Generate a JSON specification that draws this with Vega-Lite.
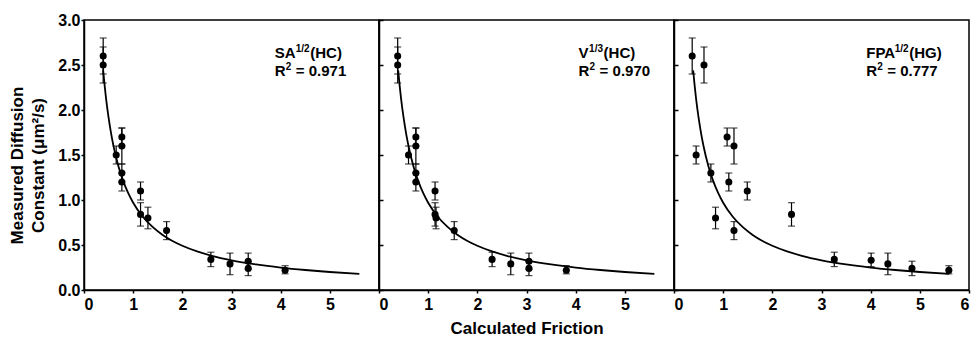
{
  "$schema": "https://vega.github.io/schema/vega-lite/v6.json",
  "padding": {"left": 8, "top": 11, "right": 4, "bottom": 0},
  "spacing": 0,
  "bounds": "flush",
  "datasets": {
    "pts": [
      {"panel": "A", "x": 0.39, "y": 2.6, "lo": 2.4, "hi": 2.8},
      {"panel": "A", "x": 0.39, "y": 2.5, "lo": 2.3, "hi": 2.7},
      {"panel": "A", "x": 0.655, "y": 1.5, "lo": 1.4, "hi": 1.6},
      {"panel": "A", "x": 0.77, "y": 1.7, "lo": 1.6, "hi": 1.8},
      {"panel": "A", "x": 0.77, "y": 1.6, "lo": 1.4, "hi": 1.8},
      {"panel": "A", "x": 0.77, "y": 1.3, "lo": 1.2, "hi": 1.4},
      {"panel": "A", "x": 0.77, "y": 1.2, "lo": 1.1, "hi": 1.3},
      {"panel": "A", "x": 1.15, "y": 1.1, "lo": 1.0, "hi": 1.2},
      {"panel": "A", "x": 1.15, "y": 0.84, "lo": 0.71, "hi": 0.97},
      {"panel": "A", "x": 1.30, "y": 0.80, "lo": 0.68, "hi": 0.92},
      {"panel": "A", "x": 1.68, "y": 0.66, "lo": 0.56, "hi": 0.76},
      {"panel": "A", "x": 2.58, "y": 0.34, "lo": 0.26, "hi": 0.42},
      {"panel": "A", "x": 2.97, "y": 0.29, "lo": 0.17, "hi": 0.41},
      {"panel": "A", "x": 3.34, "y": 0.32, "lo": 0.23, "hi": 0.41},
      {"panel": "A", "x": 3.34, "y": 0.24, "lo": 0.16, "hi": 0.32},
      {"panel": "A", "x": 4.09, "y": 0.22, "lo": 0.18, "hi": 0.27},
      {"panel": "B", "x": 0.38, "y": 2.6, "lo": 2.4, "hi": 2.8},
      {"panel": "B", "x": 0.38, "y": 2.5, "lo": 2.3, "hi": 2.7},
      {"panel": "B", "x": 0.60, "y": 1.5, "lo": 1.4, "hi": 1.6},
      {"panel": "B", "x": 0.75, "y": 1.7, "lo": 1.6, "hi": 1.8},
      {"panel": "B", "x": 0.75, "y": 1.6, "lo": 1.4, "hi": 1.8},
      {"panel": "B", "x": 0.75, "y": 1.3, "lo": 1.2, "hi": 1.4},
      {"panel": "B", "x": 0.75, "y": 1.2, "lo": 1.1, "hi": 1.3},
      {"panel": "B", "x": 1.14, "y": 1.1, "lo": 1.0, "hi": 1.2},
      {"panel": "B", "x": 1.14, "y": 0.84, "lo": 0.71, "hi": 0.97},
      {"panel": "B", "x": 1.16, "y": 0.80, "lo": 0.68, "hi": 0.92},
      {"panel": "B", "x": 1.53, "y": 0.66, "lo": 0.56, "hi": 0.76},
      {"panel": "B", "x": 2.30, "y": 0.34, "lo": 0.26, "hi": 0.42},
      {"panel": "B", "x": 2.68, "y": 0.29, "lo": 0.17, "hi": 0.41},
      {"panel": "B", "x": 3.05, "y": 0.32, "lo": 0.23, "hi": 0.41},
      {"panel": "B", "x": 3.05, "y": 0.24, "lo": 0.16, "hi": 0.32},
      {"panel": "B", "x": 3.81, "y": 0.22, "lo": 0.18, "hi": 0.27},
      {"panel": "C", "x": 0.37, "y": 2.6, "lo": 2.4, "hi": 2.8},
      {"panel": "C", "x": 0.61, "y": 2.5, "lo": 2.3, "hi": 2.7},
      {"panel": "C", "x": 0.45, "y": 1.5, "lo": 1.4, "hi": 1.6},
      {"panel": "C", "x": 0.75, "y": 1.3, "lo": 1.2, "hi": 1.4},
      {"panel": "C", "x": 0.845, "y": 0.80, "lo": 0.68, "hi": 0.92},
      {"panel": "C", "x": 1.08, "y": 1.7, "lo": 1.6, "hi": 1.8},
      {"panel": "C", "x": 1.22, "y": 1.6, "lo": 1.4, "hi": 1.8},
      {"panel": "C", "x": 1.115, "y": 1.2, "lo": 1.1, "hi": 1.3},
      {"panel": "C", "x": 1.22, "y": 0.66, "lo": 0.56, "hi": 0.76},
      {"panel": "C", "x": 1.49, "y": 1.1, "lo": 1.0, "hi": 1.2},
      {"panel": "C", "x": 2.39, "y": 0.84, "lo": 0.71, "hi": 0.97},
      {"panel": "C", "x": 3.26, "y": 0.34, "lo": 0.26, "hi": 0.42},
      {"panel": "C", "x": 4.01, "y": 0.33, "lo": 0.26, "hi": 0.41},
      {"panel": "C", "x": 4.35, "y": 0.29, "lo": 0.17, "hi": 0.41},
      {"panel": "C", "x": 4.84, "y": 0.24, "lo": 0.16, "hi": 0.32},
      {"panel": "C", "x": 5.59, "y": 0.22, "lo": 0.18, "hi": 0.27}
    ],
    "curve": [
      {"x": 0.39, "y": 2.44}, {"x": 0.42, "y": 2.27}, {"x": 0.45, "y": 2.12},
      {"x": 0.5, "y": 1.914}, {"x": 0.55, "y": 1.743}, {"x": 0.6, "y": 1.6},
      {"x": 0.7, "y": 1.376}, {"x": 0.8, "y": 1.207}, {"x": 0.9, "y": 1.076},
      {"x": 1.0, "y": 0.97}, {"x": 1.2, "y": 0.811}, {"x": 1.4, "y": 0.698},
      {"x": 1.6, "y": 0.612}, {"x": 1.8, "y": 0.545}, {"x": 2.0, "y": 0.492},
      {"x": 2.3, "y": 0.429}, {"x": 2.6, "y": 0.38}, {"x": 3.0, "y": 0.33},
      {"x": 3.5, "y": 0.284}, {"x": 4.0, "y": 0.249}, {"x": 4.5, "y": 0.222},
      {"x": 5.0, "y": 0.2}, {"x": 5.6, "y": 0.179}
    ],
    "notes": [
      {"panel": "A", "line": 1, "x": 3.88, "y": 2.574, "a": "SA", "b": "1/2", "c": "(HC)"},
      {"panel": "A", "line": 2, "x": 3.88, "y": 2.378, "a": "R", "b": "2", "c": "= 0.971"},
      {"panel": "B", "line": 1, "x": 4.06, "y": 2.574, "a": "V", "b": "1/3", "c": "(HC)"},
      {"panel": "B", "line": 2, "x": 4.06, "y": 2.378, "a": "R", "b": "2", "c": "= 0.970"},
      {"panel": "C", "line": 1, "x": 3.91, "y": 2.574, "a": "FPA", "b": "1/2", "c": "(HG)"},
      {"panel": "C", "line": 2, "x": 3.91, "y": 2.378, "a": "R", "b": "2", "c": "= 0.777"}
    ]
  },
  "config": {
    "font": "Liberation Sans",
    "view": {"stroke": "black", "strokeWidth": 1.5},
    "axis": {
      "labelFont": "Liberation Sans", "labelFontWeight": "bold", "labelFontSize": 16, "labelColor": "black",
      "titleFont": "Liberation Sans", "titleFontWeight": "bold", "titleFontSize": 17, "titleColor": "black",
      "domainColor": "black", "domainWidth": 1.5, "tickColor": "black", "tickWidth": 1.5, "tickSize": 3,
      "grid": false, "labelPadding": 1
    },
    "text": {"font": "Liberation Sans", "fontWeight": "bold", "color": "black", "align": "left", "baseline": "alphabetic"}
  },
  "hconcat": [
    {
      "width": 295, "height": 270,
      "encoding": {
        "x": {"field": "x", "type": "quantitative", "scale": {"domain": [0, 6], "nice": false}, "axis": {"values": [0, 1, 2, 3, 4, 5], "title": null, "labelPadding": 3}},
        "y": {"field": "y", "type": "quantitative", "scale": {"domain": [0, 3], "nice": false}, "axis": {"values": [0, 0.5, 1, 1.5, 2, 2.5, 3], "format": ".1f", "title": ["Measured Diffusion", "Constant (μm²/s)"], "titleLineHeight": 21, "titlePadding": 10, "titleY": 145}}
      },
      "layer": [
        {
          "data": {"name": "curve"},
          "mark": {"type": "line", "color": "black", "strokeWidth": 1.8, "interpolate": "monotone"}
        },
        {
          "data": {"name": "pts"},
          "transform": [{"filter": "datum.panel == 'A'"}],
          "mark": {"type": "errorbar", "color": "black", "thickness": 1.2, "ticks": {"size": 7, "color": "black", "thickness": 1.2}},
          "encoding": {
            "y": {"field": "lo", "type": "quantitative"},
            "y2": {"field": "hi"}
          }
        },
        {
          "data": {"name": "pts"},
          "transform": [{"filter": "datum.panel == 'A'"}],
          "mark": {"type": "circle", "color": "black", "size": 50, "opacity": 1}
        },
        {
          "data": {"name": "notes"},
          "transform": [{"filter": "datum.panel == 'A'"}],
          "layer": [
            {"mark": {"type": "text", "fontSize": 15}, "encoding": {"text": {"field": "a"}}},
            {"transform": [{"filter": "datum.line == 1"}], "mark": {"type": "text", "fontSize": 10, "dx": 21, "dy": -6}, "encoding": {"text": {"field": "b"}}},
            {"transform": [{"filter": "datum.line == 1"}], "mark": {"type": "text", "fontSize": 15, "dx": 35.5}, "encoding": {"text": {"field": "c"}}},
            {"transform": [{"filter": "datum.line == 2"}], "mark": {"type": "text", "fontSize": 10, "dx": 11, "dy": -6}, "encoding": {"text": {"field": "b"}}},
            {"transform": [{"filter": "datum.line == 2"}], "mark": {"type": "text", "fontSize": 15, "dx": 21}, "encoding": {"text": {"field": "c"}}}
          ]
        }
      ]
    },
    {
      "width": 295, "height": 270,
      "encoding": {
        "x": {"field": "x", "type": "quantitative", "scale": {"domain": [0, 6], "nice": false}, "axis": {"values": [0, 1, 2, 3, 4, 5], "title": "Calculated Friction", "titlePadding": 8, "labelPadding": 3}},
        "y": {"field": "y", "type": "quantitative", "scale": {"domain": [0, 3], "nice": false}, "axis": {"values": [0, 0.5, 1, 1.5, 2, 2.5, 3], "labels": false, "tickSize": -4, "title": null}}
      },
      "layer": [
        {
          "data": {"name": "curve"},
          "mark": {"type": "line", "color": "black", "strokeWidth": 1.8, "interpolate": "monotone"}
        },
        {
          "data": {"name": "pts"},
          "transform": [{"filter": "datum.panel == 'B'"}],
          "mark": {"type": "errorbar", "color": "black", "thickness": 1.2, "ticks": {"size": 7, "color": "black", "thickness": 1.2}},
          "encoding": {
            "y": {"field": "lo", "type": "quantitative"},
            "y2": {"field": "hi"}
          }
        },
        {
          "data": {"name": "pts"},
          "transform": [{"filter": "datum.panel == 'B'"}],
          "mark": {"type": "circle", "color": "black", "size": 50, "opacity": 1}
        },
        {
          "data": {"name": "notes"},
          "transform": [{"filter": "datum.panel == 'B'"}],
          "layer": [
            {"mark": {"type": "text", "fontSize": 15}, "encoding": {"text": {"field": "a"}}},
            {"transform": [{"filter": "datum.line == 1"}], "mark": {"type": "text", "fontSize": 10, "dx": 10.5, "dy": -6}, "encoding": {"text": {"field": "b"}}},
            {"transform": [{"filter": "datum.line == 1"}], "mark": {"type": "text", "fontSize": 15, "dx": 25}, "encoding": {"text": {"field": "c"}}},
            {"transform": [{"filter": "datum.line == 2"}], "mark": {"type": "text", "fontSize": 10, "dx": 11, "dy": -6}, "encoding": {"text": {"field": "b"}}},
            {"transform": [{"filter": "datum.line == 2"}], "mark": {"type": "text", "fontSize": 15, "dx": 21}, "encoding": {"text": {"field": "c"}}}
          ]
        }
      ]
    },
    {
      "width": 295, "height": 270,
      "encoding": {
        "x": {"field": "x", "type": "quantitative", "scale": {"domain": [0, 6], "nice": false}, "axis": {"values": [0, 1, 2, 3, 4, 5, 6], "title": null, "labelPadding": 3}},
        "y": {"field": "y", "type": "quantitative", "scale": {"domain": [0, 3], "nice": false}, "axis": {"values": [0, 0.5, 1, 1.5, 2, 2.5, 3], "labels": false, "tickSize": -4, "title": null}}
      },
      "layer": [
        {
          "data": {"name": "curve"},
          "mark": {"type": "line", "color": "black", "strokeWidth": 1.8, "interpolate": "monotone"}
        },
        {
          "data": {"name": "pts"},
          "transform": [{"filter": "datum.panel == 'C'"}],
          "mark": {"type": "errorbar", "color": "black", "thickness": 1.2, "ticks": {"size": 7, "color": "black", "thickness": 1.2}},
          "encoding": {
            "y": {"field": "lo", "type": "quantitative"},
            "y2": {"field": "hi"}
          }
        },
        {
          "data": {"name": "pts"},
          "transform": [{"filter": "datum.panel == 'C'"}],
          "mark": {"type": "circle", "color": "black", "size": 50, "opacity": 1}
        },
        {
          "data": {"name": "notes"},
          "transform": [{"filter": "datum.panel == 'C'"}],
          "layer": [
            {"mark": {"type": "text", "fontSize": 15}, "encoding": {"text": {"field": "a"}}},
            {"transform": [{"filter": "datum.line == 1"}], "mark": {"type": "text", "fontSize": 10, "dx": 28.5, "dy": -6}, "encoding": {"text": {"field": "b"}}},
            {"transform": [{"filter": "datum.line == 1"}], "mark": {"type": "text", "fontSize": 15, "dx": 43}, "encoding": {"text": {"field": "c"}}},
            {"transform": [{"filter": "datum.line == 2"}], "mark": {"type": "text", "fontSize": 10, "dx": 11, "dy": -6}, "encoding": {"text": {"field": "b"}}},
            {"transform": [{"filter": "datum.line == 2"}], "mark": {"type": "text", "fontSize": 15, "dx": 21}, "encoding": {"text": {"field": "c"}}}
          ]
        }
      ]
    }
  ]
}
